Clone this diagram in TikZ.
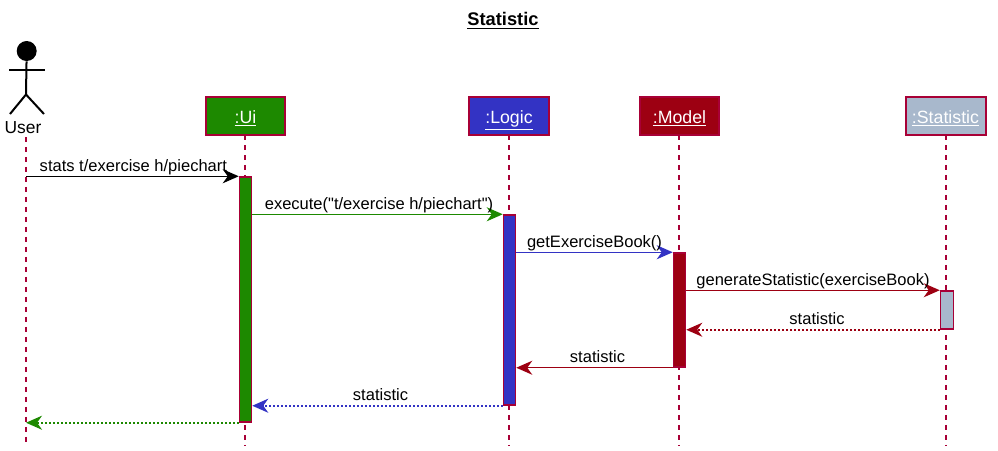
\documentclass[tikz,border=0pt]{standalone}
\usepackage{fontspec}
\setmainfont{Liberation Sans}[Ligatures=TeXOff]
\usepackage{xcolor}
\usetikzlibrary{arrows.meta, positioning, calc}
\definecolor{uigreen}{HTML}{1D8900}
\definecolor{logicblue}{HTML}{3333C4}
\definecolor{modelred}{HTML}{9D0012}
\definecolor{statgrey}{HTML}{A8B8CC}
\definecolor{linered}{HTML}{A80036}

\begin{document}
\begin{tikzpicture}[
    x=0.02cm, y=-0.02cm,
    box/.style={draw=linered, line width=0.04cm, rectangle, minimum width=1.6cm, minimum height=0.75cm, inner sep=0pt, text=white, text height=0.36cm, text depth=0.08cm, font=\fontsize{10.1}{12}\selectfont},
    bar/.style={draw=linered, line width=0.03cm, rectangle, minimum width=0.24cm, inner sep=0pt},
    lifeline/.style={draw=linered, line width=0.028cm, dash pattern=on 0.1cm off 0.1cm},
    msg/.style={line width=0.028cm, -{Stealth[length=0.32cm, width=0.28cm, inset=0.1cm]}},
    reply/.style={msg, line width=0.034cm, dash pattern=on 0.04cm off 0.04cm},
    msgtext/.style={text=black, font=\fontsize{9.4}{11}\selectfont, inner sep=0pt, text depth=0pt, above=0.09cm}
]
    \useasboundingbox (0,0) rectangle (998,450);

    % Title
    \node[font=\fontsize{10.4}{12}\selectfont\bfseries] (title) at (503,21) {\underline{Statistic}};

    % Actor
    \node[circle, fill=black, minimum size=0.4cm, inner sep=0pt] (head) at (26.7,51) {};
    \node[font=\fontsize{9.9}{11}\selectfont, inner sep=0pt] (user) at (23,128) {User};
    \coordinate (hip) at (26,94.5);
    \coordinate (armL) at (9.3,70);
    \coordinate (armR) at (44.7,70);
    \coordinate (legL) at (10,114);
    \coordinate (legR) at (44,114);
    \draw[line width=0.04cm] (head) -- (hip);
    \draw[line width=0.04cm] (armL) -- (armR);
    \draw[line width=0.04cm] (legL) -- (hip) -- (legR);

    % Participants
    \node[box, fill=uigreen] (ui) at (245.5,116) {\underline{:Ui}};
    \node[box, fill=logicblue] (logic) at (509,116) {\underline{:Logic}};
    \node[box, fill=modelred] (model) at (679.5,116) {\underline{:Model}};
    \node[box, fill=statgrey] (stat) at (945.5,116) {\underline{:Statistic}};

    % Lifelines
    \coordinate (userTop) at (26,137);
    \coordinate (userEnd) at (26,445);
    \coordinate (uiTop) at (245,135);
    \coordinate (uiEnd) at (245,445);
    \coordinate (logicTop) at (509,135);
    \coordinate (logicEnd) at (509,445);
    \coordinate (modelTop) at (679,135);
    \coordinate (modelEnd) at (679,445);
    \coordinate (statTop) at (946,135);
    \coordinate (statEnd) at (946,445);
    \draw[lifeline] (userTop) -- (userEnd);
    \draw[lifeline] (uiTop) -- (uiEnd);
    \draw[lifeline] (logicTop) -- (logicEnd);
    \draw[lifeline] (modelTop) -- (modelEnd);
    \draw[lifeline] (statTop) -- (statEnd);

    % Activation bars
    \node[bar, fill=uigreen, minimum height=4.9cm] (uiBar) at (245.5,299.5) {};
    \node[bar, fill=logicblue, minimum height=3.8cm] (logicBar) at (509.5,310) {};
    \node[bar, fill=modelred, minimum height=2.28cm] (modelBar) at (679.5,310) {};
    \node[bar, fill=statgrey, minimum width=0.26cm, minimum height=0.76cm] (statBar) at (947,310) {};

    % Messages
    \draw[msg, black] (userTop |- uiBar.north) -- (uiBar.north west) node[midway, msgtext, xshift=0.02cm] {stats t/exercise h/piechart};
    \draw[msg, uigreen] (uiBar.east |- logicBar.north) -- (logicBar.north west) node[midway, msgtext, xshift=0.03cm] {execute("t/exercise h/piechart")};
    \draw[msg, logicblue] (logicBar.east |- modelBar.north) -- (modelBar.north west) node[midway, msgtext] {getExerciseBook()};
    \draw[msg, modelred] (modelBar.east |- statBar.north) -- (statBar.north west) node[midway, msgtext] {generateStatistic(exerciseBook)};
    \draw[reply, modelred] (statBar.south west) -- (modelBar.east |- statBar.south) node[midway, msgtext, xshift=0.08cm] {statistic};
    \draw[msg, modelred] (modelBar.south west) -- (logicBar.east |- modelBar.south) node[midway, msgtext, xshift=0.06cm] {statistic};
    \draw[reply, logicblue] (logicBar.south west) -- (uiBar.east |- logicBar.south) node[midway, msgtext, xshift=0.06cm] {statistic};
    \draw[reply, uigreen] (uiBar.south west) -- (userTop |- uiBar.south);

\end{tikzpicture}
\end{document}
